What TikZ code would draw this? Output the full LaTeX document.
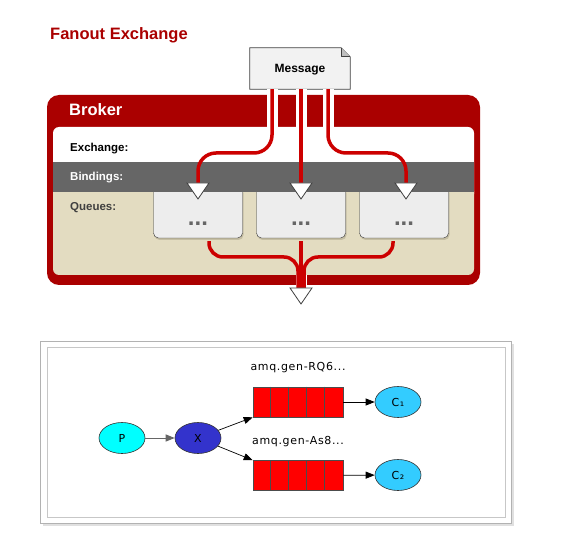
\documentclass[tikz,border=0pt]{standalone}
\usepackage{fontspec}
\setmainfont{Liberation Sans}
\newfontfamily\gvfont[LetterSpace=6]{DejaVu Sans}
\usetikzlibrary{shapes.geometric,arrows.meta,shadows,calc}
\pgfdeclarelayer{background}
\pgfsetlayers{background,main}
\definecolor{brokerred}{HTML}{AA0000}
\definecolor{flowred}{HTML}{CC0000}
\definecolor{bandgray}{HTML}{666666}
\definecolor{queuebeige}{HTML}{E3DCC1}
\definecolor{boxshade}{HTML}{C5BEA3}
\definecolor{boxgray}{HTML}{EDEDED}
\definecolor{msggray}{HTML}{F2F2F2}
\definecolor{pcyan}{HTML}{00FFFF}
\definecolor{xblue}{HTML}{3333CC}
\definecolor{cblue}{HTML}{33CCFF}
\definecolor{qred}{HTML}{FF0000}

\begin{document}
\begin{tikzpicture}[x=1pt,y=-1pt,
  title/.style={anchor=base west,inner sep=0pt,font=\fontsize{16.5}{18}\selectfont\bfseries},
  rowlabel/.style={anchor=base west,inner sep=0pt,font=\fontsize{11.5}{13}\selectfont\bfseries},
  msgbox/.style={minimum width=100pt,minimum height=41pt,inner sep=0pt,text depth=0pt,
    font=\fontsize{12}{14}\selectfont\bfseries},
  qbox/.style={rectangle,draw=black!80,fill=boxgray,rounded corners=5pt,minimum width=89pt,
    minimum height=52pt,inner sep=0pt,text height=28pt,text depth=0pt,text=bandgray,
    font=\fontsize{24}{24}\selectfont\bfseries,
    drop shadow={shadow xshift=1pt,shadow yshift=-2pt,fill=boxshade,opacity=1}},
  halo/.style={draw=white,line width=11pt},
  flow/.style={draw=flowred,line width=3.5pt,rounded corners=18pt},
  tip/.style={draw=black!75,fill=white,line width=0.8pt,line join=miter},
  gv/.style={font=\gvfont\fontsize{11}{13}\selectfont},
  actor/.style={ellipse,draw=black!80,line width=0.6pt,minimum width=46pt,minimum height=31pt,
    inner sep=0pt,gv},
  queue/.style={rectangle,draw=black!70,fill=qred,line width=0.6pt,minimum width=90pt,
    minimum height=30pt,inner sep=0pt},
  arr/.style={draw=black,line width=0.7pt,-{Triangle[length=9pt,width=7pt]}}]
  \useasboundingbox (0,0) rectangle (587,556);
  % Title and message
  \node[title,text=brokerred] (ttl) at (50,40) {Fanout Exchange};
  \node[msgbox] (msg) at (300,68.5) {Message};
  \begin{pgfonlayer}{background}
    \draw[draw=black!75,fill=msggray,line width=0.8pt] (msg.north west)
      -- ([xshift=-9pt]msg.north east) -- ([yshift=-9pt]msg.north east)
      -- (msg.south east) -- (msg.south west) -- cycle;
    \draw[draw=black!75,fill=black!25,line width=0.8pt,line join=round]
      ([xshift=-9pt]msg.north east) -- ([shift={(-9pt,-9pt)}]msg.north east)
      -- ([yshift=-9pt]msg.north east);
  \end{pgfonlayer}
  % Broker
  \fill[brokerred,rounded corners=12pt] (47,95) rectangle (480,285);
  \coordinate (ta) at (198,183);
  \coordinate (tb) at (301,183);
  \coordinate (tc) at (406,183);
  \coordinate (split) at (0,153);
  \coordinate (merge) at (0,257);
  \coordinate (out) at (301,288);
  \coordinate (outl) at (298,288);
  \coordinate (outr) at (304,288);
  \draw[halo] ([xshift=-28pt]msg.south) -- ++(0,45);
  \draw[halo] ([xshift=1pt]msg.south) -- ++(0,45);
  \draw[halo] ([xshift=28pt]msg.south) -- ++(0,45);
  \draw[halo] (out) -- ++(0,-20);
  \fill[white,rounded corners=6pt] (53,127) rectangle (474,200);
  \fill[queuebeige,rounded corners=6pt] (53,185) rectangle (474,275);
  % Queues
  \node[qbox] (qa) at (198,212) {...};
  \node[qbox] (qb) at (301,212) {...};
  \node[qbox] (qc) at (404,212) {...};
  \fill[bandgray] (53,162) rectangle (474,192);
  \node[title,text=white] (brk) at (69,116) {Broker};
  \node[rowlabel] (lex) at (70,152) {Exchange:};
  \node[rowlabel,text=white] (lbi) at (70,181) {Bindings:};
  \node[rowlabel,text=black!75] (lqu) at (70,210.5) {Queues:};
  % Flows
  \draw[flow] ([xshift=-28pt]msg.south) coordinate (ma) -- (ma |- split) -- (ta |- split) -- (ta);
  \draw[flow] ([xshift=1pt]msg.south) -- (tb);
  \draw[flow] ([xshift=28pt]msg.south) coordinate (mc) -- (mc |- split) -- (tc |- split) -- (tc);
  \begin{scope}[flow/.append style={rounded corners=14pt}]
    \draw[flow] ([shift={(11pt,-3pt)}]qa.south) coordinate (sa) -- (sa |- merge) -- (outl |- merge) -- (outl);
    \draw[flow] ([yshift=-3pt]qb.south) -- (out);
    \draw[flow] ([shift={(-11pt,-3pt)}]qc.south) coordinate (sc) -- (sc |- merge) -- (outr |- merge) -- (outr);
  \end{scope}
  \foreach \t in {ta,tb,tc,out}
    \draw[tip] (\t) ++(-11,0) -- ++(22,0) -- ++(-11,16) -- cycle;
  % Graph
  \fill[black!12] (43,344) rectangle (514,526);
  \draw[black!30,fill=white] (40,341) rectangle (511,523);
  \draw[black!22] (47,347) rectangle (505,517);
  \node[actor,fill=pcyan] (p) at (122,438) {P};
  \node[actor,fill=xblue] (x) at (198,438) {X};
  \node[queue] (q1) at (298,402) {};
  \node[queue] (q2) at (298,475.5) {};
  \foreach \q in {q1,q2}
    \foreach \i in {1,...,4}
      \draw[black!70,line width=0.6pt] ($(\q.north west)+(\i*18,0)$) -- ($(\q.south west)+(\i*18,0)$);
  \node[gv] (n1) at (298,368) {amq.gen-RQ6...};
  \node[gv] (n2) at (298,442) {amq.gen-As8...};
  \node[actor,fill=cblue] (c1) at (398,402) {C₁};
  \node[actor,fill=cblue] (c2) at (398,475) {C₂};
  \draw[arr,draw=black!60,line width=1pt] (p) -- (x);
  \draw[arr] (x) -- (q1.south west);
  \draw[arr] (x) -- (q2.north west);
  \draw[arr] (q1) -- (c1);
  \draw[arr] (q2) -- (c2);
\end{tikzpicture}
\end{document}
